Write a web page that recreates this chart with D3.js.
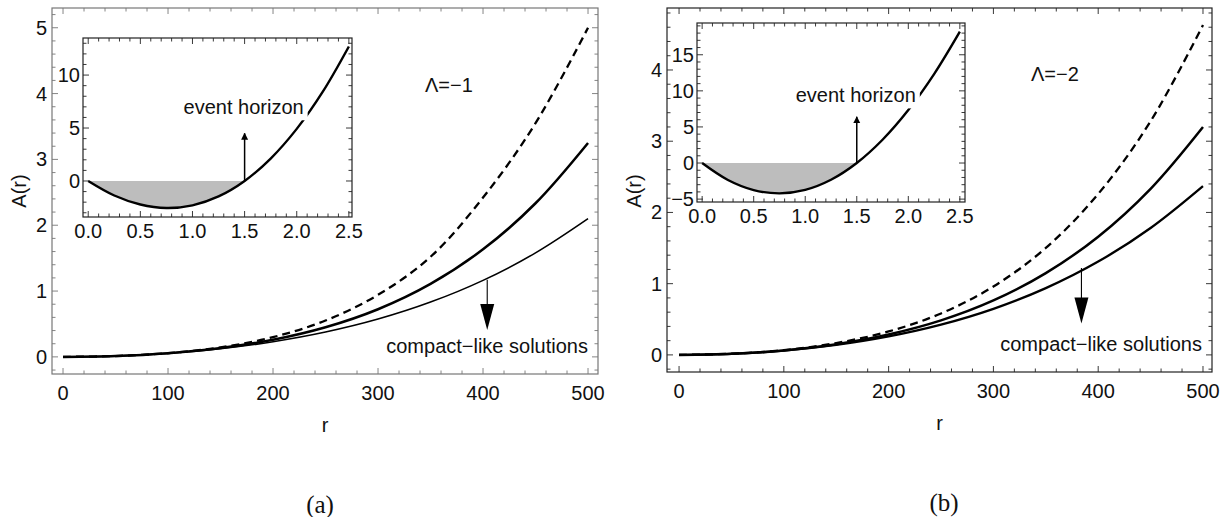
<!DOCTYPE html>
<html>
<head>
<meta charset="utf-8">
<script src="https://cdn.jsdelivr.net/npm/d3@7"></script>
<style>
  body { margin: 0; background: #fff; }
  text { font-family: "Liberation Sans", Arial, sans-serif; fill: #111; }
  .cap { font-family: "Liberation Serif", "DejaVu Serif", serif; }
</style>
</head>
<body>
<script>
// values
var rVals = [0, 50, 100, 150, 200, 250, 300, 350, 400, 450, 500];

var leftDashed = [0, 0.013, 0.057, 0.145, 0.300, 0.552, 0.943, 1.52, 2.42, 3.55, 5.0];
var leftMid    = [0, 0.013, 0.056, 0.134, 0.260, 0.450, 0.724, 1.109, 1.634, 2.334, 3.25];
var leftThin   = [0, 0.013, 0.054, 0.124, 0.230, 0.377, 0.574, 0.832, 1.162, 1.580, 2.10];

var rightDashed = [0, 0.016, 0.067, 0.166, 0.329, 0.582, 0.960, 1.502, 2.26, 3.28, 4.63];
var rightMid    = [0, 0.015, 0.063, 0.150, 0.286, 0.484, 0.764, 1.148, 1.66, 2.332, 3.20];
var rightLow    = [0, 0.015, 0.060, 0.140, 0.259, 0.424, 0.646, 0.937, 1.31, 1.782, 2.37];

var insetX = [0, 0.25, 0.5, 0.75, 1.0, 1.25, 1.5, 1.75, 2.0, 2.25, 2.5];
var leftInsetA  = [0, -1.37, -2.22, -2.55, -2.30, -1.46, 0, 2.12, 4.92, 8.43, 12.7];
var rightInsetA = [0, -2.35, -3.75, -4.20, -3.72, -2.32, 0, 3.22, 7.33, 12.32, 18.2];

var mainXTicks = [0, 100, 200, 300, 400, 500];
var leftYTicks = [0, 1, 2, 3, 4, 5];
var rightYTicks = [0, 1, 2, 3, 4];
var insetXTicks = [0.0, 0.5, 1.0, 1.5, 2.0, 2.5];
var leftInsetYTicks = [0, 5, 10];
var rightInsetYTicks = [-5, 0, 5, 10, 15];

// annotation anchors (data units)
var leftArrow  = {r: 404, from: 1.17, to: 0.41};
var rightArrow = {r: 384, from: 1.22, to: 0.44};
var leftHorizon  = {x: 1.5, top: 4.5, textY: 6.3};
var rightHorizon = {x: 1.5, top: 6.4, textY: 8.4};

var FS = 20;

var svg = d3.select("body").append("svg")
    .attr("width", 1226)
    .attr("height", 517);

var defs = svg.append("defs");
defs.append("marker").attr("id", "smallhead")
    .attr("viewBox", "0 0 10 10").attr("refX", 9).attr("refY", 5)
    .attr("markerWidth", 7).attr("markerHeight", 10).attr("markerUnits", "userSpaceOnUse")
    .attr("orient", "auto")
    .append("path").attr("d", "M0,0 L10,5 L0,10 Z").attr("fill", "#000");

function frameTicks(g, x, y, xMajor, xMinorStep, yMajor, yMinorStep, col) {
  var x0 = x.range()[0], x1 = x.range()[1], y0 = y.range()[0], y1 = y.range()[1];
  var xd = x.domain(), yd = y.domain();
  var xm = d3.range(Math.ceil(xd[0] / xMinorStep) * xMinorStep, xd[1], xMinorStep);
  var ym = d3.range(Math.ceil(yd[0] / yMinorStep) * yMinorStep, yd[1], yMinorStep);
  var t = g.append("g").attr("stroke", col).attr("stroke-width", 0.9);
  xm.forEach(function(v) {
    var major = xMajor.some(function(m) { return Math.abs(m - v) < xMinorStep / 10; });
    var len = major ? 6 : 3.5;
    t.append("line").attr("x1", x(v)).attr("x2", x(v)).attr("y1", y0).attr("y2", y0 - len);
    t.append("line").attr("x1", x(v)).attr("x2", x(v)).attr("y1", y1).attr("y2", y1 + len);
  });
  ym.forEach(function(v) {
    var major = yMajor.some(function(m) { return Math.abs(m - v) < yMinorStep / 10; });
    var len = major ? 6 : 3.5;
    t.append("line").attr("y1", y(v)).attr("y2", y(v)).attr("x1", x0).attr("x2", x0 + len);
    t.append("line").attr("y1", y(v)).attr("y2", y(v)).attr("x1", x1).attr("x2", x1 - len);
  });
  g.append("rect")
      .attr("x", x0).attr("y", y1)
      .attr("width", x1 - x0).attr("height", y0 - y1)
      .attr("fill", "none").attr("stroke", col).attr("stroke-width", 1.2);
}

function drawPanel(p) {
  var g = svg.append("g");
  var x = d3.scaleLinear().domain(p.xDom).range(p.xRange);
  var y = d3.scaleLinear().domain(p.yDom).range(p.yRange);

  var line = d3.line()
      .x(function(d) { return x(d[0]); })
      .y(function(d) { return y(d[1]); })
      .curve(d3.curveCatmullRom);

  p.series.forEach(function(s) {
    g.append("path")
        .datum(d3.zip(rVals, s.values))
        .attr("d", line)
        .attr("fill", "none")
        .attr("stroke", "#000")
        .attr("stroke-width", s.width)
        .attr("stroke-dasharray", s.dash || null);
  });

  frameTicks(g, x, y, mainXTicks, 20, p.yTicks, 0.2, p.frameCol);

  g.selectAll(".xl").data(mainXTicks).enter().append("text")
      .attr("x", function(d) { return x(d); })
      .attr("y", p.yRange[0] + 26)
      .attr("text-anchor", "middle")
      .attr("font-size", FS)
      .text(function(d) { return d; });
  g.selectAll(".yl").data(p.yTicks).enter().append("text")
      .attr("x", p.xRange[0] - 5)
      .attr("y", function(d) { return y(d) + 7; })
      .attr("text-anchor", "end")
      .attr("font-size", FS)
      .text(function(d) { return d; });

  g.append("text")
      .attr("x", (p.xRange[0] + p.xRange[1]) / 2)
      .attr("y", p.yRange[0] + 58)
      .attr("text-anchor", "middle")
      .attr("font-size", FS)
      .text("r");
  g.append("text")
      .attr("transform", "translate(" + (p.xRange[0] - 26) + "," + 191 + ") rotate(-90)")
      .attr("text-anchor", "middle")
      .attr("font-size", FS)
      .text("A(r)");

  g.append("text")
      .attr("x", p.lambdaPos[0]).attr("y", p.lambdaPos[1])
      .attr("font-size", FS)
      .text(p.lambda);

  // compact-like arrow
  var a = p.arrow;
  var ax = x(a.r), ay0 = y(a.from), ay1 = y(a.to);
  g.append("line")
      .attr("x1", ax).attr("x2", ax).attr("y1", ay0).attr("y2", ay1 - 20)
      .attr("stroke", "#000").attr("stroke-width", 1.1);
  g.append("path")
      .attr("d", "M" + (ax - 7) + "," + (ay1 - 26) + " L" + (ax + 7) + "," + (ay1 - 26) +
                 " L" + ax + "," + ay1 + " Z")
      .attr("fill", "#000");
  g.append("text")
      .attr("x", p.xRange[1] - 10)
      .attr("y", y(0) - 4)
      .attr("text-anchor", "end")
      .attr("font-size", FS)
      .text("compact\u2212like solutions");

  drawInset(p.inset);
}

function drawInset(q) {
  var g = svg.append("g");
  var x = d3.scaleLinear().domain(q.xDom).range(q.xRange);
  var y = d3.scaleLinear().domain(q.yDom).range(q.yRange);

  g.append("rect")
      .attr("x", q.xRange[0]).attr("y", q.yRange[1])
      .attr("width", q.xRange[1] - q.xRange[0])
      .attr("height", q.yRange[0] - q.yRange[1])
      .attr("fill", "#fff");

  var pts = d3.zip(insetX, q.values);
  var area = d3.area()
      .x(function(d) { return x(d[0]); })
      .y0(y(0))
      .y1(function(d) { return y(d[1]); })
      .curve(d3.curveCatmullRom);
  g.append("path")
      .datum(pts.filter(function(d) { return d[0] <= 1.5; }))
      .attr("d", area)
      .attr("fill", "#bdbdbd");

  var line = d3.line()
      .x(function(d) { return x(d[0]); })
      .y(function(d) { return y(d[1]); })
      .curve(d3.curveCatmullRom);
  g.append("path")
      .datum(pts)
      .attr("d", line)
      .attr("fill", "none")
      .attr("stroke", "#000")
      .attr("stroke-width", 2.4);

  frameTicks(g, x, y, insetXTicks, 0.1, q.yTicks, 1, "#222");

  g.selectAll(".ixl").data(insetXTicks).enter().append("text")
      .attr("x", function(d) { return x(d); })
      .attr("y", q.yRange[0] + 21)
      .attr("text-anchor", "middle")
      .attr("font-size", FS)
      .text(function(d) { return d.toFixed(1); });
  g.selectAll(".iyl").data(q.yTicks).enter().append("text")
      .attr("x", q.xRange[0] - 3)
      .attr("y", function(d) { return y(d) + 7; })
      .attr("text-anchor", "end")
      .attr("font-size", FS)
      .text(function(d) { return d < 0 ? "\u2212" + (-d) : d; });

  var h = q.horizon;
  g.append("line")
      .attr("x1", x(h.x)).attr("x2", x(h.x))
      .attr("y1", y(0)).attr("y2", y(h.top))
      .attr("stroke", "#000").attr("stroke-width", 1.5)
      .attr("marker-end", "url(#smallhead)");
  var t = g.append("text")
      .attr("x", x(h.x) - 1)
      .attr("y", y(h.textY))
      .attr("text-anchor", "middle")
      .attr("font-size", FS)
      .text("event horizon");
  var bb = t.node().getBBox();
  g.insert("rect", function() { return t.node(); })
      .attr("x", bb.x - 1).attr("y", bb.y + 2)
      .attr("width", bb.width + 5).attr("height", bb.height)
      .attr("fill", "#fff");
}

drawPanel({
  xDom: [-10.5, 509.5], xRange: [52, 598],
  yDom: [-0.26, 5.3], yRange: [374, 8],
  yTicks: leftYTicks, frameCol: "#777",
  series: [
    {values: leftDashed, width: 2.3, dash: "8,5"},
    {values: leftMid, width: 2.5},
    {values: leftThin, width: 1.6}
  ],
  lambda: "\u039B=\u22121", lambdaPos: [425, 92],
  arrow: leftArrow,
  inset: {
    xDom: [-0.05, 2.53], xRange: [83, 352],
    yDom: [-3.4, 13.5], yRange: [217, 38],
    values: leftInsetA, yTicks: leftInsetYTicks, horizon: leftHorizon
  }
});

drawPanel({
  xDom: [-11.5, 508.6], xRange: [667, 1212],
  yDom: [-0.24, 4.87], yRange: [372, 8],
  yTicks: rightYTicks, frameCol: "#222",
  series: [
    {values: rightDashed, width: 2.3, dash: "8,5"},
    {values: rightMid, width: 2.5},
    {values: rightLow, width: 2.3}
  ],
  lambda: "\u039B=\u22122", lambdaPos: [1031, 81],
  arrow: rightArrow,
  inset: {
    xDom: [-0.05, 2.55], xRange: [697, 965],
    yDom: [-5.4, 19.4], yRange: [202, 23],
    values: rightInsetA, yTicks: rightInsetYTicks, horizon: rightHorizon
  }
});

svg.append("text").attr("class", "cap")
    .attr("x", 320).attr("y", 513)
    .attr("text-anchor", "middle").attr("font-size", 25)
    .text("(a)");
svg.append("text").attr("class", "cap")
    .attr("x", 944).attr("y", 511)
    .attr("text-anchor", "middle").attr("font-size", 25)
    .text("(b)");
</script>
</body>
</html>
